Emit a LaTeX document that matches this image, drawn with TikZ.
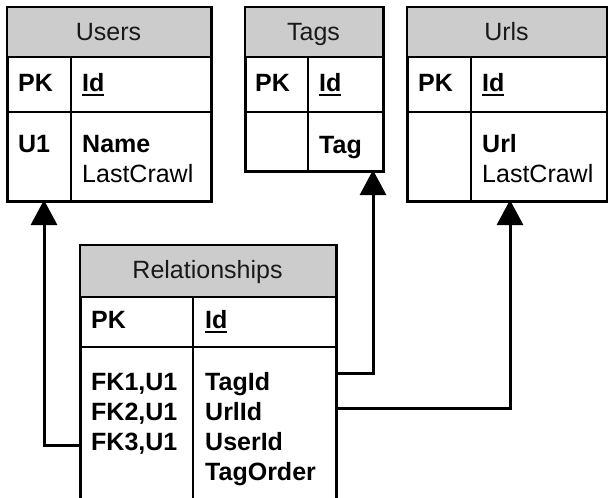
\documentclass[tikz,border=0pt]{standalone}
\usepackage{fontspec}
\setmainfont{Liberation Sans}
\usetikzlibrary{arrows.meta}
% bold key field with a heavy underline
\newcommand\keyfield[1]{\setbox0=\hbox{\bfseries #1}\rlap{\rule[-5pt]{\wd0}{2pt}}\box0}
\begin{document}
\begin{tikzpicture}[x=1pt,y=-1pt,
  tbl/.style={draw=black,line width=2pt,fill=white,inner sep=0pt,anchor=north west},
  hdr/.style={fill=black!20},
  grid/.style={draw=black,line width=2pt},
  title/.style={anchor=base,inner sep=0pt,font=\fontsize{25}{30}\selectfont,text=black!90},
  txt/.style={anchor=base west,inner sep=0pt,font=\fontsize{25}{30}\selectfont},
  btxt/.style={txt,font=\fontsize{25}{30}\selectfont\bfseries},
  fk/.style={draw=black,line width=3pt,-{Triangle[width=26pt,length=25pt]}}]
\useasboundingbox (0,0) rectangle (608,498);
\clip (0,0) rectangle (608,498);

% ---- Users ----
\node[tbl,minimum width=203pt,minimum height=193pt] (users) at (7,7) {};
\fill[hdr] (7,7) rectangle (210,57);
\draw[grid] (users.north west) rectangle (users.south east);
\draw[grid] (7,57) -- (210,57) (7,112) -- (210,112) (71,57) -- (71,200);
\node[title] (usersT) at (108.5,40) {Users};
\node[btxt] (usersPK) at (18,91) {PK};
\node[btxt] (usersId) at (82,91) {\keyfield{Id}};
\node[btxt] (usersU1) at (18,152) {U1};
\node[btxt] (usersName) at (82,152) {Name};
\node[txt] (usersLC) at (82,182) {LastCrawl};

% ---- Tags ----
\node[tbl,minimum width=137pt,minimum height=163pt] (tags) at (245,7) {};
\fill[hdr] (245,7) rectangle (382,57);
\draw[grid] (tags.north west) rectangle (tags.south east);
\draw[grid] (245,57) -- (382,57) (245,112) -- (382,112) (308,57) -- (308,170);
\node[title] (tagsT) at (313.5,40) {Tags};
\node[btxt] (tagsPK) at (255,91) {PK};
\node[btxt] (tagsId) at (319,91) {\keyfield{Id}};
\node[btxt] (tagsTag) at (319,153) {Tag};

% ---- Urls ----
\node[tbl,minimum width=199pt,minimum height=193pt] (urls) at (407,7) {};
\fill[hdr] (407,7) rectangle (606,57);
\draw[grid] (urls.north west) rectangle (urls.south east);
\draw[grid] (407,57) -- (606,57) (407,112) -- (606,112) (471,57) -- (471,200);
\node[title] (urlsT) at (506.5,40) {Urls};
\node[btxt] (urlsPK) at (418,91) {PK};
\node[btxt] (urlsId) at (482,91) {\keyfield{Id}};
\node[btxt] (urlsUrl) at (482,152) {Url};
\node[txt] (urlsLC) at (482,182) {LastCrawl};

% ---- Relationships ----
\node[tbl,minimum width=255pt,minimum height=280pt] (rel) at (80,245) {};
\fill[hdr] (80,245) rectangle (335,297);
\draw[grid] (rel.north west) rectangle (rel.south east);
\draw[grid] (80,297) -- (335,297) (80,347) -- (335,347) (193,297) -- (193,525);
\node[title] (relT) at (207.5,278) {Relationships};
\node[btxt] (relPK) at (91,328) {PK};
\node[btxt] (relId) at (205,328) {\keyfield{Id}};
\node[btxt] (relFK1) at (91,390) {FK1,U1};
\node[btxt] (relFK2) at (91,420) {FK2,U1};
\node[btxt] (relFK3) at (91,450) {FK3,U1};
\node[btxt] (relTagId) at (205,390) {TagId};
\node[btxt] (relUrlId) at (205,420) {UrlId};
\node[btxt] (relUserId) at (205,450) {UserId};
\node[btxt] (relOrder) at (205,480) {TagOrder};

% ---- foreign key connectors ----
\coordinate (fkUserOut) at (80,445);
\coordinate (fkUserIn) at (44,200);
\coordinate (fkTagOut) at (335,373);
\coordinate (fkTagIn) at (373,170);
\coordinate (fkUrlOut) at (335,408);
\coordinate (fkUrlIn) at (510,200);
\draw[fk] (fkUserOut) -| (fkUserIn);
\draw[fk] (fkTagOut) -| (fkTagIn);
\draw[fk] (fkUrlOut) -| (fkUrlIn);
\end{tikzpicture}
\end{document}
